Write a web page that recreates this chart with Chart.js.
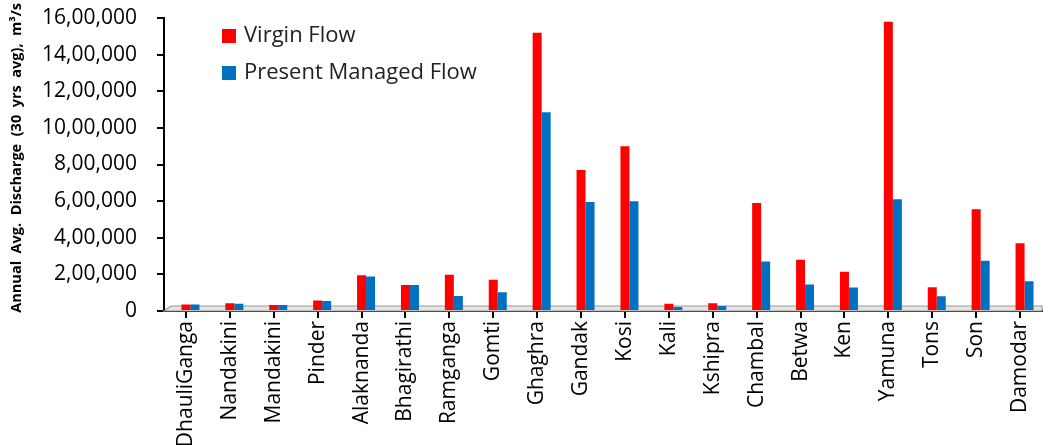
<!DOCTYPE html>
<html>
<head>
<meta charset="utf-8">
<script src="https://cdn.jsdelivr.net/npm/chart.js@4/dist/chart.umd.min.js"></script>
<style>
html,body{margin:0;padding:0;background:#fff;}
#wrap{width:1062px;height:445px;position:relative;}
</style>
</head>
<body>
<div id="wrap"><canvas id="c"></canvas></div>
<script>
const categories = ["DhauliGanga","Nandakini","Mandakini","Pinder","Alaknanda","Bhagirathi","Ramganga","Gomti","Ghaghra","Gandak","Kosi","Kali","Kshipra","Chambal","Betwa","Ken","Yamuna","Tons","Son","Damodar"];
const virginFlow = [35000, 42000, 33000, 58000, 195000, 142000, 198000, 170000, 1520000, 770000, 900000, 40000, 42000, 590000, 280000, 215000, 1580000, 130000, 555000, 370000];
const managedFlow = [35000, 40000, 33000, 54000, 188000, 142000, 82000, 103000, 1085000, 595000, 600000, 22000, 27000, 270000, 145000, 128000, 610000, 80000, 275000, 162000];
const seriesLabels = ["Virgin Flow", "Present Managed Flow"];
const seriesColors = ["#FF0000", "#0070C0"];
const yTitle = "Annual  Avg.  Discharge  (30  yrs  avg),  m\u00B3/s";

function indianFormat(v){
  const s = String(Math.round(v));
  if (s.length <= 3) return s;
  const last3 = s.slice(-3);
  const rest = s.slice(0, -3).replace(/\B(?=(\d{2})+(?!\d))/g, ',');
  return rest + ',' + last3;
}

const FONT = "'Open Sans', 'DejaVu Sans', sans-serif";

const floorPlugin = {
  id: 'floor',
  beforeDatasetsDraw(chart){
    const {ctx, chartArea:a} = chart;
    ctx.save();
    ctx.beginPath();
    ctx.moveTo(a.left, a.bottom);
    ctx.lineTo(a.left + 7, a.bottom - 5);
    ctx.lineTo(a.right, a.bottom - 5);
    ctx.lineTo(a.right, a.bottom);
    ctx.closePath();
    ctx.fillStyle = '#e4e4e4';
    ctx.fill();
    ctx.strokeStyle = '#9a9a9a';
    ctx.lineWidth = 1.2;
    ctx.stroke();
    ctx.restore();
    const meta = chart.getDatasetMeta(0);
    const w = meta.data.length ? meta.data[0].width : 0;
    ctx.save();
    ctx.translate(w / 2, 0);
  },
  afterDatasetsDraw(chart){
    chart.ctx.restore();
  }
};

const legendPlugin = {
  id: 'innerLegend',
  afterDraw(chart){
    const {ctx, chartArea:a} = chart;
    ctx.save();
    ctx.font = "22px " + FONT;
    ctx.textBaseline = 'middle';
    chart.data.datasets.forEach((ds, i) => {
      const x = a.left + 58;
      const y = a.top + 18 + i * 37;
      ctx.fillStyle = ds.backgroundColor;
      ctx.fillRect(x, y - 7, 14, 14);
      ctx.fillStyle = '#222';
      ctx.fillText(ds.label, x + 22, y);
    });
    ctx.restore();
  }
};

const titlePlugin = {
  id: 'yTitle',
  afterDraw(chart){
    const {ctx} = chart;
    ctx.save();
    ctx.translate(17, 3);
    ctx.rotate(-Math.PI / 2);
    ctx.font = "bold 14.5px " + FONT;
    ctx.fillStyle = '#000';
    ctx.textAlign = 'right';
    ctx.textBaseline = 'middle';
    ctx.fillText(yTitle, 0, 0);
    ctx.restore();
  }
};

new Chart(document.getElementById('c'), {
  type: 'bar',
  data: {
    labels: categories,
    datasets: [
      { label: seriesLabels[0], data: virginFlow, backgroundColor: seriesColors[0], borderWidth: 0 },
      { label: seriesLabels[1], data: managedFlow, backgroundColor: seriesColors[1], borderWidth: 0 }
    ]
  },
  options: {
    responsive: true,
    maintainAspectRatio: false,
    animation: false,
    layout: { padding: { top: 18, right: 20, left: 0, bottom: 0 } },
    plugins: { legend: { display: false }, tooltip: { enabled: false } },
    datasets: { bar: { categoryPercentage: 0.41, barPercentage: 1.0 } },
    scales: {
      x: {
        afterFit(scale){ scale.height = 134; scale.paddingLeft = 0; scale.paddingRight = 0; },
        grid: { display: true, drawOnChartArea: false, offset: false, color: '#000', lineWidth: 2, tickLength: 7 },
        border: { display: true, color: '#000', width: 2 },
        ticks: { maxRotation: 90, minRotation: 90, autoSkip: false, padding: 3, color: '#000', font: { family: FONT, size: 21 } }
      },
      y: {
        min: 0, max: 1600000,
        afterFit(scale){ scale.width = 164; scale.paddingTop = 0; scale.paddingBottom = 0; },
        grid: { display: true, drawOnChartArea: false, color: '#000', lineWidth: 2, tickLength: 7 },
        border: { display: true, color: '#000', width: 2 },
        ticks: { stepSize: 200000, padding: 20, color: '#000', font: { family: FONT, size: 21 }, callback: v => indianFormat(v) }
      }
    }
  },
  plugins: [floorPlugin, legendPlugin, titlePlugin]
});
</script>
</body>
</html>
